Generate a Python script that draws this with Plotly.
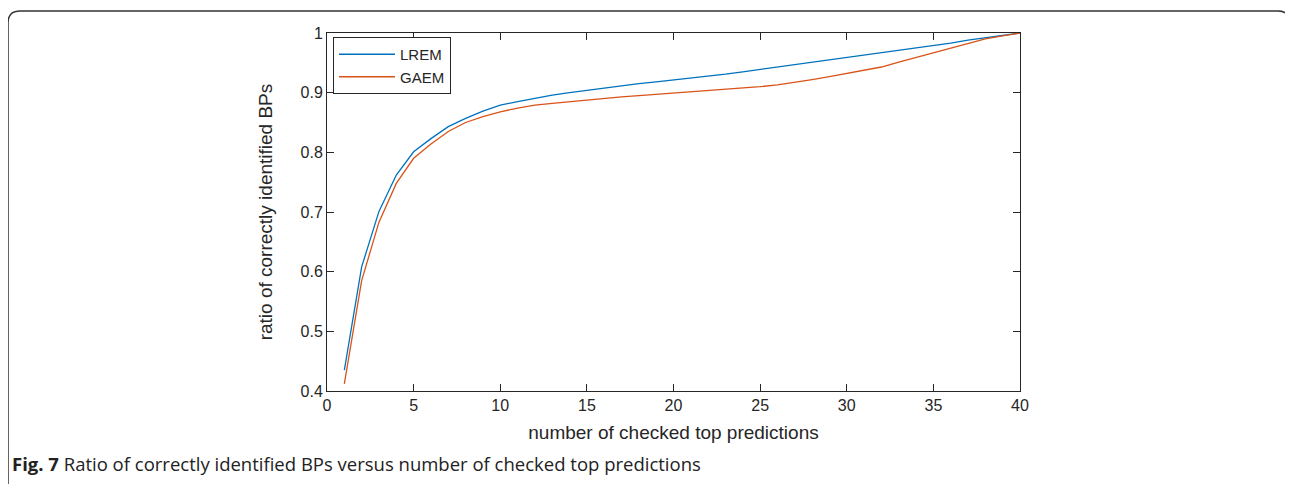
import plotly.graph_objects as go

x_vals = list(range(1, 41))
lrem = [0.435, 0.608, 0.701, 0.762, 0.801, 0.823, 0.843, 0.857, 0.869, 0.879,
        0.885, 0.891, 0.896, 0.900, 0.904, 0.908, 0.912, 0.915, 0.918, 0.921,
        0.924, 0.927, 0.931, 0.935, 0.939, 0.943, 0.946, 0.950, 0.954, 0.958,
        0.962, 0.966, 0.970, 0.974, 0.978, 0.983, 0.988, 0.992, 0.996, 1.000]
gaem = [0.412, 0.585, 0.683, 0.748, 0.790, 0.814, 0.835, 0.850, 0.860, 0.868,
        0.874, 0.879, 0.882, 0.885, 0.888, 0.891, 0.893, 0.895, 0.897, 0.899,
        0.901, 0.903, 0.905, 0.907, 0.910, 0.913, 0.917, 0.922, 0.927, 0.932,
        0.937, 0.943, 0.951, 0.959, 0.966, 0.974, 0.982, 0.990, 0.995, 1.000]
series_names = ["LREM", "GAEM"]
x_ticks = [0, 5, 10, 15, 20, 25, 30, 35, 40]
y_ticks = [0.4, 0.5, 0.6, 0.7, 0.8, 0.9, 1.0]
y_tick_labels = ["0.4", "0.5", "0.6", "0.7", "0.8", "0.9", "1"]

# page body has an 8px margin, so figure coords = screen coords - 8
OFF = 8
W, H = 1293 - OFF, 484 - OFF
L, R, T, B = 327 - OFF, 1020 - OFF, 33 - OFF, 391 - OFF
pw, ph = R - L, B - T

def px(x):
    return (x - OFF - L) / pw

def py(y):
    return (B - (y - OFF)) / ph

fig = go.Figure()
fig.add_trace(go.Scatter(x=x_vals, y=lrem, mode="lines", name=series_names[0],
                         line=dict(color="#0072BD", width=1.3)))
fig.add_trace(go.Scatter(x=x_vals, y=gaem, mode="lines", name=series_names[1],
                         line=dict(color="#D95319", width=1.3)))

axis_font = "Liberation Sans, Arial"
axis_common = dict(showgrid=False, zeroline=False, showline=True, mirror="ticks",
                   linecolor="#262626", linewidth=1, ticks="inside", ticklen=7,
                   tickcolor="#262626", tickfont=dict(family=axis_font, size=16, color="#262626"))

fig.update_xaxes(range=[0, 40], tickvals=x_ticks,
                 title=dict(text="number of checked top predictions", standoff=12,
                            font=dict(family=axis_font, size=19, color="#262626")),
                 **axis_common)
fig.update_yaxes(range=[0.4, 1.0], tickvals=y_ticks, ticktext=y_tick_labels,
                 title=dict(text="ratio of correctly identified BPs", standoff=22,
                            font=dict(family=axis_font, size=19, color="#262626")),
                 **axis_common)

# rounded frame around the figure panel
x0, x1 = px(8), px(1290)
y0, yb = py(11), py(500)
rx, ry = 12 / pw, 12 / ph
path = (f"M {x0},{yb} L {x0},{y0 - ry} Q {x0},{y0} {x0 + rx},{y0} "
        f"L {x1 - rx},{y0} Q {x1},{y0} {x1},{y0 - ry} L {x1},{yb}")
fig.add_shape(type="path", path=path, xref="paper", yref="paper",
              line=dict(color="#333333", width=1.5))

fig.add_annotation(text="<b>Fig. 7</b> Ratio of correctly identified BPs versus number of checked top predictions",
                   xref="paper", yref="paper", x=px(10), y=py(463), xanchor="left", yanchor="middle",
                   showarrow=False, font=dict(family="Open Sans, Noto Sans", size=18.5, color="#222222"))

fig.update_layout(
    width=W, height=H,
    margin=dict(l=L, r=W - R, t=T, b=H - B),
    paper_bgcolor="white", plot_bgcolor="white",
    legend=dict(x=px(333), y=py(37), xanchor="left", yanchor="top",
                bordercolor="#262626", borderwidth=1, bgcolor="white",
                font=dict(family=axis_font, size=15, color="#262626"),
                itemwidth=56, tracegroupgap=0),
    showlegend=True,
)

fig.write_html("out.html")
